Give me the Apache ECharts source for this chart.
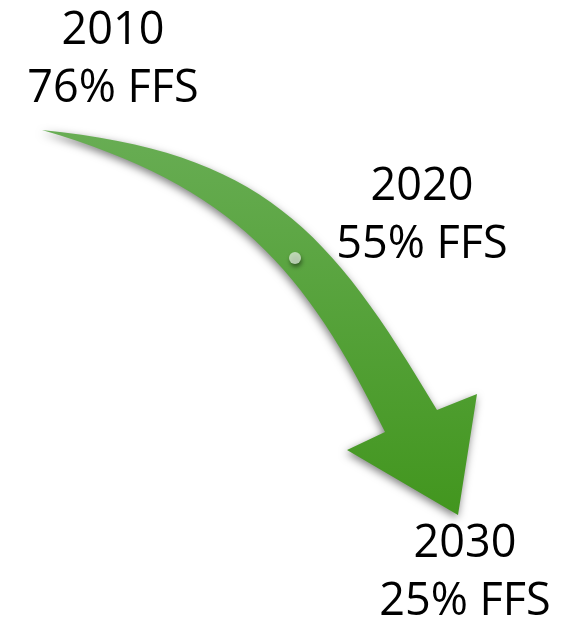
<!DOCTYPE html>
<html>
<head>
<meta charset="utf-8">
<title>FFS share</title>
<script src="https://cdn.jsdelivr.net/npm/echarts@6/dist/echarts.min.js"></script>
<style>
  html, body { margin: 0; padding: 0; background: #fff; }
  #chart { width: 571px; height: 620px; }
</style>
</head>
<body>
<div id="chart"></div>
<script>
// data
const years = ["2010", "2020", "2030"];
const ffsShare = [76, 55, 25];

// layout (in a 571 x 620 drawing space, y down)
const labelAnchors = [[113, 60], [422, 216], [465, 573]];
const dotAnchor = [295, 258];
// arrow outline: cubic bezier for each edge (start, ctrl1, ctrl2, end) and the head corners
const upperEdge = [[42, 130], [262, 152], [330, 229], [437, 410]];
const headCorners = [[477, 394], [458, 515], [347, 450]];
const lowerEdge = [[385, 432], [306, 270], [234, 186], [42, 130]];

const chart = echarts.init(document.getElementById("chart"));

function renderArrow(params, api) {
  const up = upperEdge.map((p) => api.coord(p));
  const head = headCorners.map((p) => api.coord(p));
  const low = lowerEdge.map((p) => api.coord(p));
  const pt = (p) => p[0] + " " + p[1];
  let d = "M" + pt(up[0]) + " C" + pt(up[1]) + " " + pt(up[2]) + " " + pt(up[3]);
  head.forEach((p) => { d += " L" + pt(p); });
  d += " L" + pt(low[0]) + " C" + pt(low[1]) + " " + pt(low[2]) + " " + pt(low[3]) + " Z";
  return {
    type: "path",
    shape: { pathData: d },
    style: {
      fill: new echarts.graphic.LinearGradient(0, 0, 0, 1, [
        { offset: 0, color: "#68ad54" },
        { offset: 1, color: "#42961e" },
      ]),
      shadowColor: "rgba(0,0,0,0.5)",
      shadowBlur: 8,
      shadowOffsetX: -1,
      shadowOffsetY: 3,
    },
  };
}

function renderLabel(params, api) {
  const i = params.dataIndex;
  const pt = api.coord([api.value(0), api.value(1)]);
  return {
    type: "text",
    x: pt[0],
    y: pt[1],
    style: {
      text: years[i] + "\n" + ffsShare[i] + "% FFS",
      fill: "#000",
      font: "45px 'Open Sans'",
      lineHeight: 58,
      align: "center",
      verticalAlign: "middle",
    },
  };
}

let option = {
  animation: false,
  grid: { left: 0, right: 0, top: 0, bottom: 0 },
  xAxis: { type: "value", min: 0, max: 571, show: false },
  yAxis: { type: "value", min: 0, max: 620, inverse: true, show: false },
  series: [
    {
      type: "custom",
      renderItem: renderArrow,
      data: [[0, 0]],
      silent: true,
    },
    {
      type: "scatter",
      data: [dotAnchor],
      symbol: "circle",
      symbolSize: 12,
      itemStyle: {
        color: "#d6e6d1",
        shadowColor: "rgba(0,0,0,0.55)",
        shadowBlur: 4,
        shadowOffsetX: 1,
        shadowOffsetY: 3,
      },
      silent: true,
    },
    {
      type: "custom",
      renderItem: renderLabel,
      data: labelAnchors,
      silent: true,
    },
  ],
};
chart.setOption(option);
</script>
</body>
</html>
